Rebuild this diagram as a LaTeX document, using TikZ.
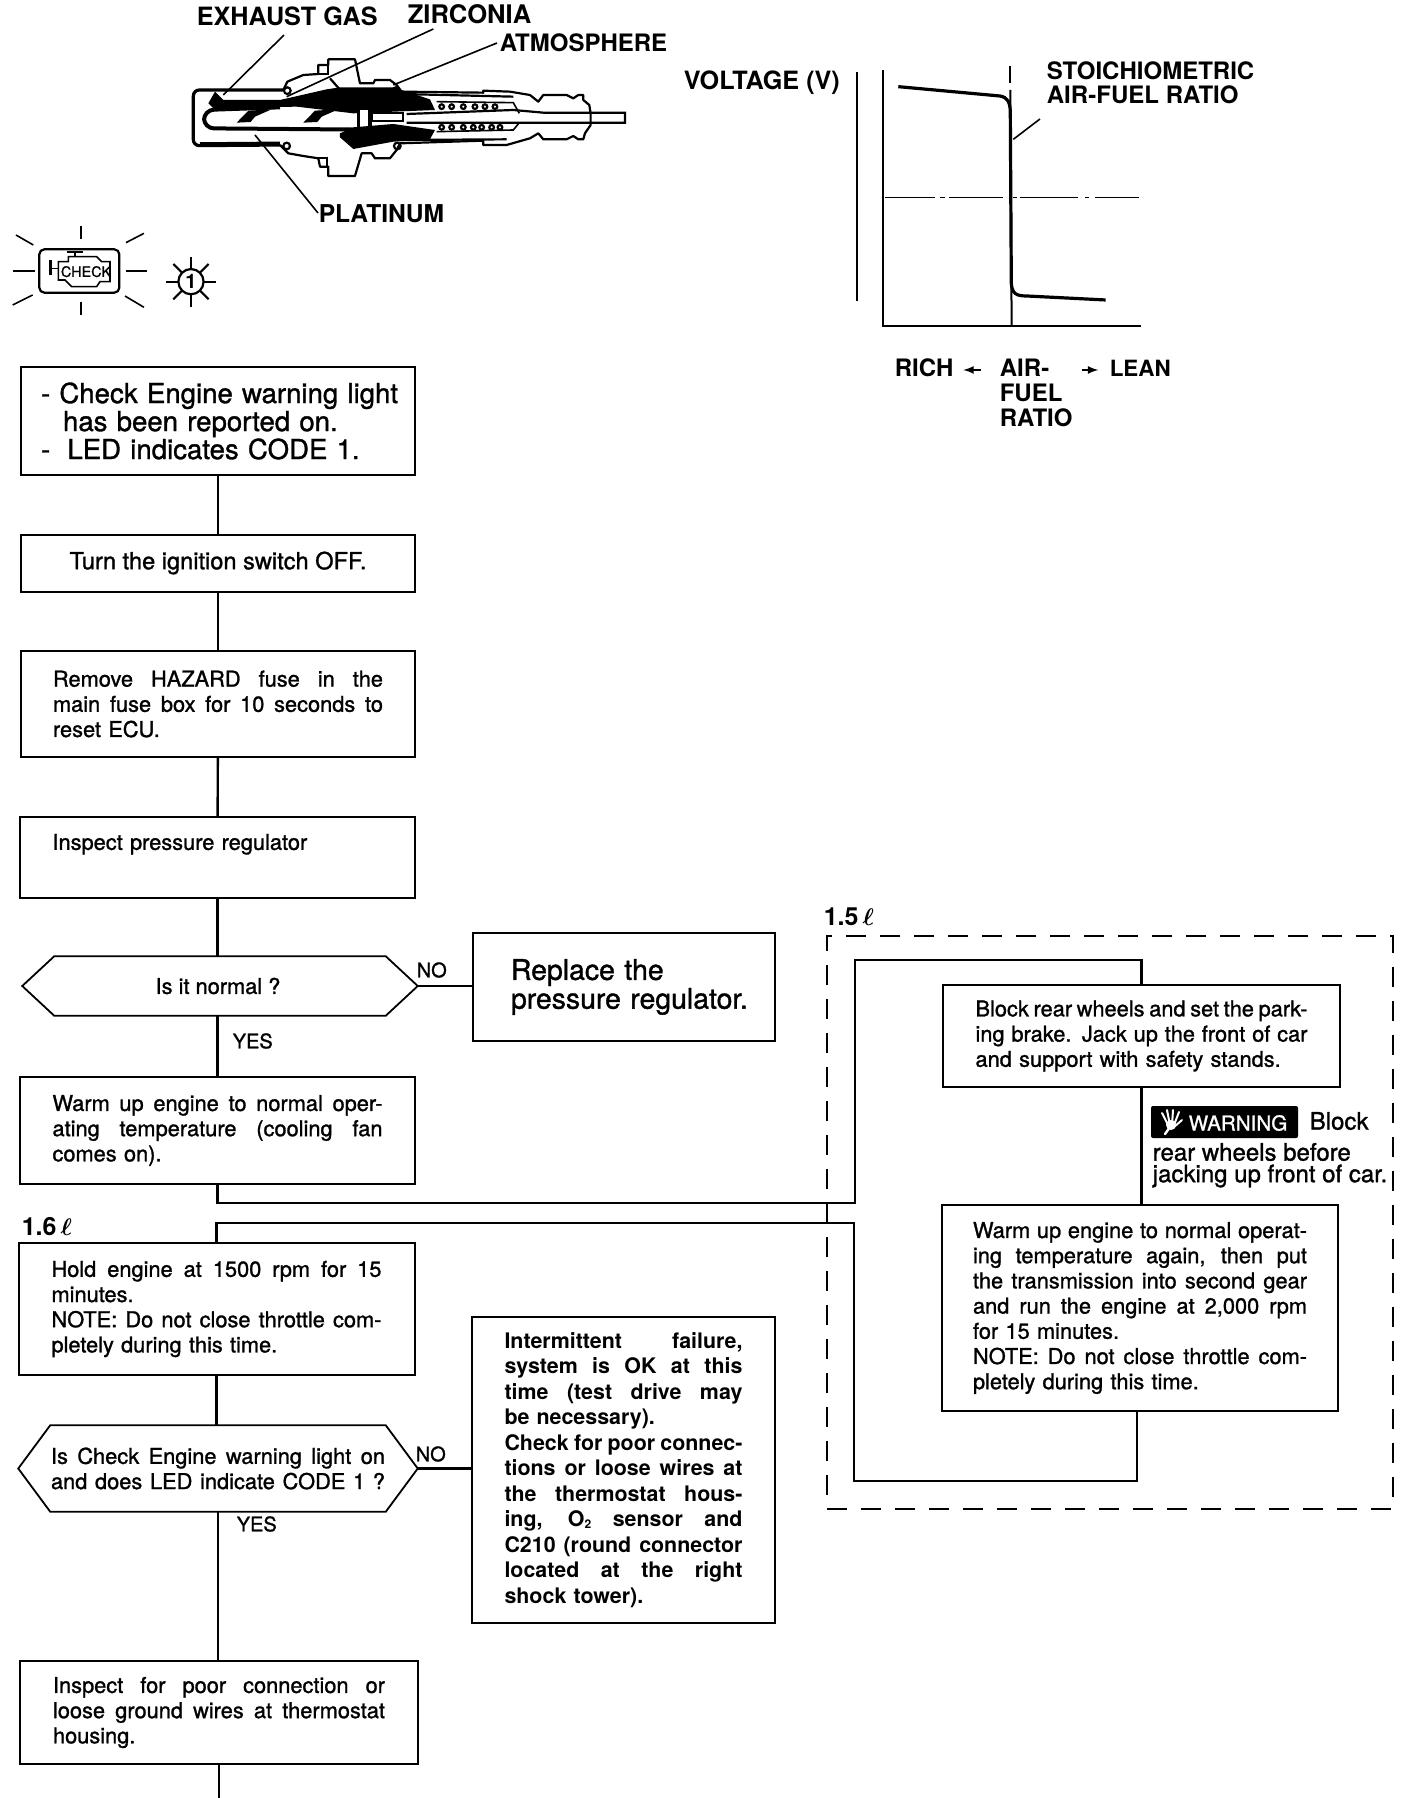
\documentclass[tikz,border=0pt]{standalone}
\usepackage{fontspec}
\setmainfont{TeX Gyre Heros}
\newfontfamily\semifont{TeX Gyre Heros}[FakeBold=1.2]
\usetikzlibrary{calc}
\newcommand{\jl}[1]{\makebox[\hsize][s]{\spaceskip=0pt\xspaceskip=0pt #1}}
\tikzset{every picture/.style={line width=0.75pt},
  flowbox/.style={draw,line width=1pt,inner sep=0pt,align=left,font=\semifont\fontsize{10.9}{12.6}\selectfont},
  decbox/.style={inner sep=0pt,align=left,font=\semifont\fontsize{10.9}{12.6}\selectfont},
  trunk/.style={line width=1.2pt},
  hexline/.style={line width=0.9pt},
  headtext/.style={inner sep=0pt,anchor=west,font=\bfseries\fontsize{12}{14}\selectfont},
  smalltext/.style={inner sep=0pt,anchor=west,font=\semifont\fontsize{10}{12}\selectfont},
  warntext/.style={inner sep=0pt,anchor=west,font=\semifont\fontsize{12}{12}\selectfont},
  heavy/.style={line width=1.6pt},
  medium/.style={line width=1.1pt},
  fine/.style={line width=0.8pt}}
\begin{document}
\begin{tikzpicture}[x=0.5pt,y=0.5pt,yscale=-1,xscale=1]
\useasboundingbox (0,0) rectangle (1408,1798);

% Boxes
\node (checkbox) [flowbox,minimum width=197pt,minimum height=54pt,text width=177pt,font=\semifont\fontsize{13.8}{14}\selectfont] at (218,421) {\mbox{- Check Engine warning light}\\\hspace*{11pt}has been reported on.\\-\hspace*{4pt} LED indicates CODE 1.};
\node (ignbox) [flowbox,minimum width=197pt,minimum height=28.5pt,align=center,font=\semifont\fontsize{11.8}{13}\selectfont] at (218,563) {Turn the ignition switch OFF.};
\node (fusebox) [flowbox,minimum width=197pt,minimum height=53pt,text width=165pt] at (218,704) {\jl{Remove HAZARD fuse in the}\\\jl{main fuse box for 10 seconds to}\\reset ECU.};
\node (regbox) [flowbox,minimum width=197.5pt,minimum height=40.5pt,text width=165pt] at (217.5,857.5) {Inspect pressure regulator\\[3pt]\mbox{}};
\node (dec1) [decbox,minimum width=197pt,minimum height=29pt,align=center] at (220,986) {\hspace*{-2pt}Is it normal ?};
\node (warmbox) [flowbox,minimum width=197.5pt,minimum height=53.5pt,text width=165pt] at (217.5,1130.5) {\jl{Warm up engine to normal oper-}\\\jl{ating temperature (cooling fan}\\comes on).};
\node (holdbox) [flowbox,minimum width=198pt,minimum height=66pt,text width=165pt] at (216.5,1309) {\jl{Hold engine at 1500 rpm for 15}\\minutes.\\\jl{NOTE: Do not close throttle com-}\\pletely during this time.};
\node (dec2) [decbox,minimum width=199pt,minimum height=42.5pt,text width=167pt] at (218,1468.5) {\jl{Is Check Engine warning light on}\\\jl{and does LED indicate CODE 1 ?}};
\node (groundbox) [flowbox,minimum width=199pt,minimum height=51.5pt,text width=166pt] at (219,1712.5) {\jl{Inspect for poor connection or}\\\jl{loose ground wires at thermostat}\\housing.};
\node (replacebox) [flowbox,minimum width=151pt,minimum height=54pt,text width=125pt,font=\semifont\fontsize{14.2}{14.4}\selectfont] at (624,987) {\hspace*{6pt}Replace the\\\hspace*{6pt}\mbox{pressure regulator.}};
\node (failbox) [flowbox,minimum width=151.5pt,minimum height=153pt,text width=119pt,font=\bfseries\fontsize{10.7}{12.75}\selectfont] at (623.5,1470) {\jl{Intermittent failure,}\\\jl{system is OK at this}\\\jl{time (test drive may}\\be necessary).\\\jl{Check for poor connec-}\\\jl{tions or loose wires at}\\\jl{the thermostat hous-}\\\jl{ing, O\raisebox{-1pt}{\fontsize{6}{6}\selectfont 2} sensor and}\\\jl{C210 (round connector}\\\jl{located at the right}\\shock tower).};
\node (blockbox) [flowbox,minimum width=198.5pt,minimum height=51pt,text width=166pt] at (1141.5,1036) {\jl{Block rear wheels and set the park-}\\\jl{ing brake. Jack up the front of car}\\and support with safety stands.};
\node (againbox) [flowbox,minimum width=198pt,minimum height=103pt,text width=167pt] at (1140,1308) {\jl{Warm up engine to normal operat-}\\\jl{ing temperature again, then put}\\\jl{the transmission into second gear}\\\jl{and run the engine at 2,000 rpm}\\for 15 minutes.\\\jl{NOTE: Do not close throttle com-}\\pletely during this time.};
\node (dashbox) [draw,line width=1pt,dash pattern=on 10pt off 7pt,minimum width=283pt,minimum height=286.5pt,inner sep=0pt] at (1110,1222.5) {};

% Hexagons
\foreach \dec in {dec1,dec2}{
\draw [hexline] (\dec.west) -- ($(\dec.north west)+(32,0)$) -- ($(\dec.north east)+(-32,0)$) -- (\dec.east) -- ($(\dec.south east)+(-32,0)$) -- ($(\dec.south west)+(32,0)$) -- cycle;
}

% Connectors
\coordinate (loopsw) at (855,1203);
\coordinate (loopnw) at (855,960);
\coordinate (retse) at (1137,1481);
\coordinate (retsw) at (854,1481);
\coordinate (retnw) at (854,1223);
\coordinate (tailend) at (219,1798);
\draw [trunk] (checkbox) -- (ignbox);
\draw [trunk] (ignbox) -- (fusebox);
\draw [trunk] (fusebox) -- (regbox);
\draw [trunk] (regbox.south) -- (regbox.south |- dec1.north);
\draw [trunk] (warmbox.north) -- (warmbox.north |- dec1.south);
\draw [trunk] (dec1) -- (dec1 -| replacebox.west);
\draw [trunk] (warmbox.south) |- (loopsw) -- (loopnw) -| (blockbox.north);
\draw [trunk] (blockbox.south) -- (blockbox.south |- againbox.north);
\draw [trunk] (retse |- againbox.south) -- (retse) -- (retsw) -- (retnw) -| (holdbox.north);
\draw [trunk] (holdbox.south) -- (holdbox.south |- dec2.north);
\draw [trunk] (dec2.east) -- (dec2.east -| failbox.west);
\draw [trunk] (dec2.south) -- (dec2.south |- groundbox.north);
\draw [fine] (groundbox.south) -- (tailend);

% Flow labels
\node (no1) [smalltext] at (416,970) {NO};
\node (yes1) [smalltext] at (232,1041) {YES};
\node (no2) [smalltext] at (415,1454) {NO};
\node (yes2) [smalltext] at (236,1524) {YES};
\node (litre16) [headtext,font=\bfseries\fontsize{12.5}{13}\selectfont] at (21,1227) {1.6\,{\boldmath$\ell$}};
\node (litre15) [headtext,font=\bfseries\fontsize{12.5}{13}\selectfont] at (823,917) {1.5\,{\boldmath$\ell$}};

% Warning note
\node (warnlabel) [fill=black,rounded corners=1pt,minimum width=73.5pt,minimum height=16pt,inner sep=0pt] at (1224.5,1122) {};
\fill [white] (1171,1125) circle [radius=5];
\draw [white,line width=1pt,line cap=round] (1168,1125) -- (1162,1113);
\draw [white,line width=1pt,line cap=round] (1170,1125) -- (1167,1110);
\draw [white,line width=1pt,line cap=round] (1172,1125) -- (1173,1110);
\draw [white,line width=1pt,line cap=round] (1174,1125) -- (1179,1112);
\draw [white,line width=1pt,line cap=round] (1174,1127) -- (1182,1120);
\draw [white,line width=1.2pt,line cap=round] (1170,1127) -- (1165,1134);
\node (warnword) [text=white,inner sep=0pt,anchor=west,font=\semifont\fontsize{10.3}{10}\selectfont] at (1188,1123) {WARNING};
\node (warnblock) [warntext] at (1309,1121) {Block};
\node (warnrear) [warntext] at (1152,1152) {rear wheels before};
\node (warnjack) [warntext] at (1152,1176) {jacking up front of car.};

% Sensor labels
\node (exhaustlab) [headtext,font=\bfseries\fontsize{12.6}{14}\selectfont] at (196,16) {EXHAUST GAS};
\node (zirconlab) [headtext,font=\bfseries\fontsize{12.8}{14}\selectfont] at (407,14) {ZIRCONIA};
\node (atmoslab) [headtext] at (499,43) {ATMOSPHERE};
\node (platlab) [headtext,font=\bfseries\fontsize{12.3}{14}\selectfont] at (318,214) {PLATINUM};

% Sensor, in crop units
\begin{scope}[shift={(180,50)},scale=0.3333]
\coordinate (exhaustend) at (312,-45);
\coordinate (zirconend) at (760,-63);
\coordinate (atmosend) at (951,-21);
\coordinate (platend) at (414,489);
\draw [fine] (exhaustend) -- (130,135);
\draw [fine] (zirconend) -- (320,140);
\draw [fine] (atmosend) -- (640,105);
\draw [fine] (platend) -- (225,255);
% shield
\draw [heavy,rounded corners=3pt] (310,120) -- (40,120) -- (40,287) -- (300,285);
\draw [medium] (60,280) -- (300,278);
% upper body
\draw [medium,line join=round] (310,120) -- (322,95) -- (370,75) -- (415,72) -- (415,45) -- (445,45) -- (445,28) -- (525,28) -- (540,100) -- (580,100) -- (585,90) -- (630,90) -- (650,105) -- (665,125) -- (910,128) -- (910,122) -- (990,125) -- (1050,135) -- (1075,155) -- (1090,135) -- (1160,135) -- (1180,145) -- (1195,135) -- (1210,135) -- (1210,150) -- (1228,165) -- (1232,190) -- (1232,225) -- (1215,250) -- (1210,268) -- (1195,268) -- (1180,258) -- (1160,268) -- (1090,268) -- (1075,250) -- (1050,265) -- (980,285) -- (910,285) -- (910,272) -- (660,280) -- (650,300) -- (630,325) -- (585,325) -- (575,310) -- (545,310) -- (525,378) -- (445,378) -- (445,350) -- (420,350) -- (415,325) -- (370,318) -- (325,310) -- (300,285);
\draw [medium] (415,72) -- (445,72) -- (445,45);
\draw [medium] (450,85) -- (485,125);
\draw [medium] (415,325) -- (440,325) -- (440,350);
\draw [medium] (665,132) -- (1000,140);
\draw [medium] (660,270) -- (980,268);
% ceramic core
\fill (105,125) -- (130,150) -- (300,150) -- (440,118) -- (480,112) -- (640,112) -- (750,148) -- (765,180) -- (520,190) -- (350,170) -- (100,175) -- (85,160) -- cycle;
\fill (480,262) -- (520,297) -- (640,275) -- (750,268) -- (765,240) -- (640,222) -- (520,232) -- (480,250) -- cycle;
\fill (170,218) -- (205,182) -- (275,178) -- (225,200) -- (212,216) -- cycle;
\fill (370,218) -- (405,182) -- (475,178) -- (425,200) -- (412,216) -- cycle;
\draw [line width=2pt,rounded corners=5pt] (300,172) -- (72,180) -- (72,235) -- (700,240);
\fill [white] (540,180) rectangle (565,228);
\draw [medium] (575,190) rectangle (670,212);
\fill (530,175) rectangle (540,238);
\fill (565,175) rectangle (575,238);
% wire and spring
\draw [medium] (680,192) -- (1000,180) -- (1090,188) -- (1335,188) -- (1335,218) -- (680,218);
\draw [fine] (770,155) -- (1000,158) -- (1018,190);
\draw [fine] (770,245) -- (1000,240) -- (1018,218);
\foreach \xc in {785,815,850,885,915,945}{
\draw [medium] (\xc,170) circle [radius=7];
}
\foreach \xc in {785,815,850,880,905,935,960}{
\draw [medium] (\xc,232) circle [radius=7];
}
\foreach \xc/\yc in {322/122,648/122,320/288,652/288}{
\draw [medium] (\xc,\yc) circle [radius=10];
}
\end{scope}

% Check engine lamp, in crop units
\begin{scope}[shift={(0,220)},scale=0.3333]
\draw [medium,rounded corners=2.5pt] (118,88) rectangle (358,218);
\draw [fine] (243,18) -- (243,56);
\draw [fine] (243,245) -- (243,285);
\draw [fine] (40,153) -- (105,153);
\draw [fine] (378,153) -- (440,153);
\draw [fine] (48,45) -- (100,75);
\draw [fine] (378,68) -- (432,40);
\draw [fine] (38,255) -- (98,225);
\draw [fine] (375,228) -- (432,262);
\draw [heavy] (152,120) -- (152,165);
\draw [fine] (152,145) -- (175,145);
\draw [medium] (200,97) -- (250,97);
\draw [fine] (225,97) -- (225,110);
\draw [fine] (175,125) -- (205,125) -- (205,110) -- (290,110) -- (305,125) -- (330,125) -- (330,185) -- (300,185) -- (290,200) -- (215,200) -- (195,180) -- (175,180) -- cycle;
\node (checkword) [inner sep=0pt,font=\semifont\fontsize{7.2}{8}\selectfont] at (258,155) {CHECK};
\node (sun) [draw,circle,line width=1.1pt,minimum size=12.6pt,inner sep=0pt,font=\bfseries\fontsize{10}{10}\selectfont] at (573,185) {1};
\foreach \rayang in {0,45,...,315}{
\draw [medium] (sun) ++ (\rayang:40) -- ++ (\rayang:35);
}
\end{scope}

% Voltage graph, in crop units
\begin{scope}[shift={(670,40)},scale=0.3333]
\coordinate (axistop) at (640,90);
\coordinate (axisorig) at (640,858);
\coordinate (axisend) at (1413,858);
\draw [line width=1.1pt] (562,95) -- (562,782);
\draw [line width=1pt] (axistop) -- (axisorig) -- (axisend);
\draw [heavy] (685,140) -- (990,168) .. controls (1012,172) and (1020,185) .. (1021,215) -- (1024,730) .. controls (1026,762) and (1040,768) .. (1070,768) -- (1307,780);
\draw [line width=1pt] (1020,78) -- (1020,130);
\draw [line width=1pt] (1021,150) -- (1025,858);
\draw [fine] (1030,298) -- (1110,237);
\foreach \dashfrom/\dashto in {645/795,810/825,838/998,1030/1040,1050/1225,1245/1258,1275/1407}{
\draw [fine] (\dashfrom,472) -- (\dashto,472);
}
\draw [line width=0.8pt,-latex] (933,990) -- (880,990);
\draw [line width=0.8pt,-latex] (1237,990) -- (1285,990);
\end{scope}

% Graph labels
\node (voltlab) [headtext,font=\bfseries\fontsize{12.6}{14}\selectfont] at (683,83) {VOLTAGE (V)};
\node (stoichlab) [headtext] at (1046,71) {STOICHIOMETRIC};
\node (afrlab) [headtext] at (1046,95) {AIR-FUEL RATIO};
\node (richlab) [headtext] at (894,368) {RICH};
\node (leanlab) [headtext,font=\bfseries\fontsize{11.2}{14}\selectfont] at (1109,368) {LEAN};
\node (airlab) [headtext] at (999,368) {AIR-};
\node (fuellab) [headtext] at (999,393) {FUEL};
\node (ratiolab) [headtext] at (999,418) {RATIO};

\end{tikzpicture}
\end{document}
